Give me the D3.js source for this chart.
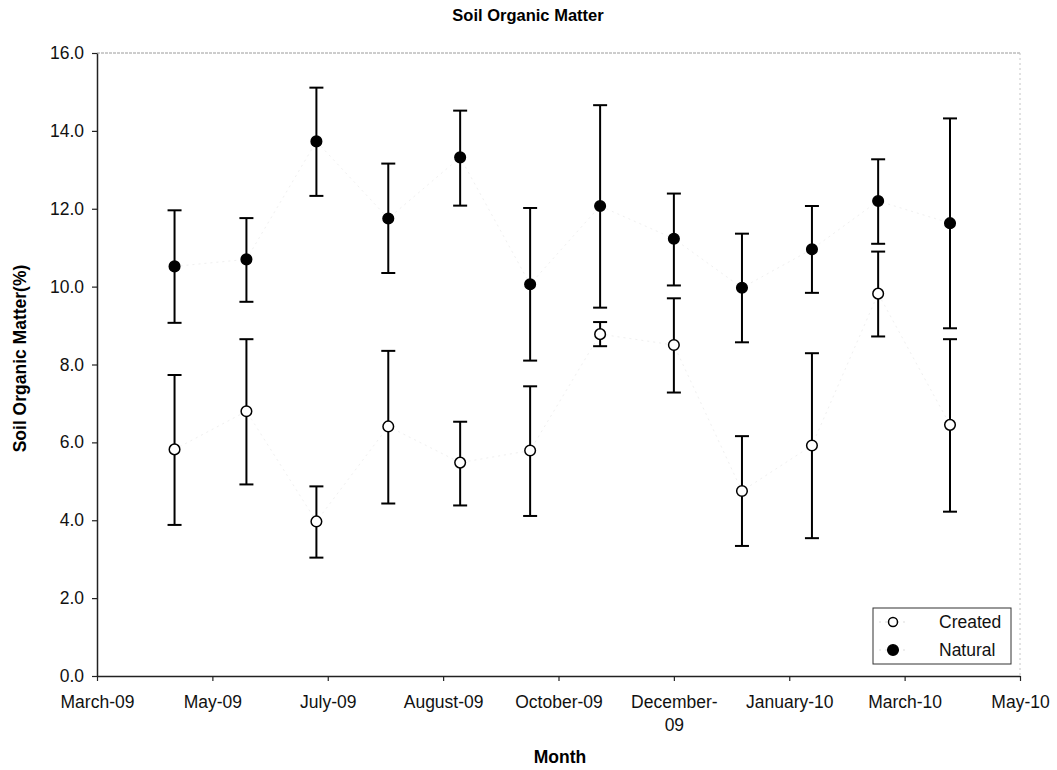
<!DOCTYPE html>
<html>
<head>
<meta charset="utf-8">
<script src="https://cdn.jsdelivr.net/npm/d3@7"></script>
<style>
  html, body { margin: 0; padding: 0; background: #fff; }
  svg { display: block; font-family: "Liberation Sans", Arial, sans-serif; }
</style>
</head>
<body>
<svg id="chart" width="1057" height="770"></svg>
<script>
// Sampling dates, as days after 1 March 2009
const sampleDay = [41, 79, 116, 154, 192, 229, 266, 305, 341, 378, 413, 451];

// Soil organic matter (%) — means and error-bar limits
const createdMean = [5.82, 6.80, 3.97, 6.41, 5.48, 5.79, 8.78, 8.50, 4.75, 5.92, 9.82, 6.45];
const createdLow  = [3.88, 4.92, 3.04, 4.43, 4.38, 4.11, 8.47, 7.28, 3.34, 3.54, 8.72, 4.22];
const createdHigh = [7.73, 8.65, 4.87, 8.35, 6.53, 7.44, 9.09, 9.70, 6.16, 8.29, 10.90, 8.65];

const naturalMean = [10.52, 10.70, 13.73, 11.75, 13.32, 10.06, 12.07, 11.23, 9.97, 10.96, 12.20, 11.63];
const naturalLow  = [9.07, 9.61, 12.33, 10.35, 12.08, 8.10, 9.46, 10.03, 8.57, 9.84, 11.10, 8.93];
const naturalHigh = [11.96, 11.76, 15.11, 13.16, 14.52, 12.02, 14.66, 12.39, 11.36, 12.07, 13.27, 14.32];

// Month axis: a tick every 61 days
const tickDays   = [0, 61, 122, 183, 244, 305, 366, 427, 488];
const tickLabels = ["March-09", "May-09", "July-09", "August-09", "October-09",
                    "December-09", "January-10", "March-10", "May-10"];

const yTicks = [0, 2, 4, 6, 8, 10, 12, 14, 16];

const svg = d3.select("#chart");
const plotLeft = 97, plotRight = 1020, plotTop = 53, plotBottom = 676;
const labelSize = 17.5;

const x = d3.scaleLinear().domain([0, 488]).range([plotLeft, plotRight]);
const y = d3.scaleLinear().domain([0, 16]).range([plotBottom, plotTop]);

// Title
svg.append("text")
  .attr("x", 528).attr("y", 21)
  .attr("text-anchor", "middle")
  .attr("font-size", 16.5).attr("font-weight", "bold")
  .text("Soil Organic Matter");

// Frame: faint dotted top and right edges
svg.append("line")
  .attr("x1", plotLeft).attr("x2", plotRight).attr("y1", plotTop).attr("y2", plotTop)
  .attr("stroke", "#9a9a9a").attr("stroke-width", 1).attr("stroke-dasharray", "3,1");
svg.append("line")
  .attr("x1", plotRight).attr("x2", plotRight).attr("y1", plotTop).attr("y2", plotBottom)
  .attr("stroke", "#c4c4c4").attr("stroke-width", 1).attr("stroke-dasharray", "2,3");

// Y axis
const yAxis = d3.axisLeft(y)
  .tickValues(yTicks)
  .tickFormat(d3.format(".1f"))
  .tickSize(5)
  .tickSizeOuter(0);
const gy = svg.append("g").attr("transform", `translate(${plotLeft},0)`).call(yAxis);
gy.attr("font-family", null).attr("font-size", null);
gy.select(".domain").attr("stroke", "#222").attr("stroke-width", 1.5);
gy.selectAll(".tick line").attr("stroke", "#222").attr("stroke-width", 1.2);
gy.selectAll(".tick text")
  .attr("font-size", labelSize).attr("fill", "#111")
  .attr("x", -13);

// X axis
const xAxis = d3.axisBottom(x)
  .tickValues(tickDays)
  .tickFormat((d, i) => tickLabels[i])
  .tickSize(5)
  .tickSizeOuter(0);
const gx = svg.append("g").attr("transform", `translate(0,${plotBottom})`).call(xAxis);
gx.attr("font-family", null).attr("font-size", null);
gx.select(".domain").attr("stroke", "#222").attr("stroke-width", 1.5);
gx.selectAll(".tick line").attr("stroke", "#222").attr("stroke-width", 1.2);
gx.selectAll(".tick text")
  .attr("font-size", labelSize).attr("fill", "#111")
  .attr("y", 20)
  .each(function(d, i) {
    const t = d3.select(this);
    const label = tickLabels[i];
    if (label.length > 10) {
      // long label breaks after the hyphen
      const cut = label.indexOf("-") + 1;
      t.text(null);
      t.append("tspan").attr("x", 0).attr("dy", "0.71em").text(label.slice(0, cut));
      t.append("tspan").attr("x", 0).attr("dy", "1.3em").text(label.slice(cut));
      t.attr("dy", null);
    }
  });

// Axis titles
svg.append("text")
  .attr("transform", `translate(26,${(plotTop + plotBottom) / 2 - 6}) rotate(-90)`)
  .attr("text-anchor", "middle")
  .attr("font-size", 17.5).attr("font-weight", "bold")
  .text("Soil Organic Matter(%)");
svg.append("text")
  .attr("x", 560).attr("y", 763)
  .attr("text-anchor", "middle")
  .attr("font-size", 17.5).attr("font-weight", "bold")
  .text("Month");

// Series
const series = [
  { name: "Created", mean: createdMean, low: createdLow, high: createdHigh, fill: "#fff" },
  { name: "Natural", mean: naturalMean, low: naturalLow, high: naturalHigh, fill: "#000" }
];

const plot = svg.append("g");

series.forEach(s => {
  const pts = sampleDay.map((d, i) => ({ d, m: s.mean[i], lo: s.low[i], hi: s.high[i] }));

  // faint connecting trace
  plot.append("path")
    .datum(pts)
    .attr("fill", "none")
    .attr("stroke", "#f0f0f0")
    .attr("stroke-width", 1)
    .attr("stroke-dasharray", "2,4")
    .attr("d", d3.line().x(p => x(p.d)).y(p => y(p.m)));

  const g = plot.append("g").selectAll("g").data(pts).join("g");
  g.append("line")
    .attr("x1", p => x(p.d)).attr("x2", p => x(p.d))
    .attr("y1", p => y(p.lo)).attr("y2", p => y(p.hi))
    .attr("stroke", "#000").attr("stroke-width", 2);
  ["lo", "hi"].forEach(k => {
    g.append("line")
      .attr("x1", p => x(p.d) - 7).attr("x2", p => x(p.d) + 7)
      .attr("y1", p => y(p[k])).attr("y2", p => y(p[k]))
      .attr("stroke", "#000").attr("stroke-width", 2);
  });
  g.append("circle")
    .attr("cx", p => x(p.d)).attr("cy", p => y(p.m))
    .attr("r", 5.3)
    .attr("fill", s.fill)
    .attr("stroke", "#000").attr("stroke-width", 1.5);
});

// Legend
const lg = svg.append("g").attr("transform", "translate(873,608)");
lg.append("rect")
  .attr("width", 138).attr("height", 56)
  .attr("fill", "#fff").attr("stroke", "#333").attr("stroke-width", 1);
series.forEach((s, i) => {
  const cy = 14 + i * 28;
  lg.append("line")
    .attr("x1", 6).attr("x2", 34).attr("y1", cy).attr("y2", cy)
    .attr("stroke", "#ddd").attr("stroke-dasharray", "2,4");
  lg.append("circle")
    .attr("cx", 20).attr("cy", cy).attr("r", s.name === "Natural" ? 5.3 : 4.5)
    .attr("fill", s.fill).attr("stroke", "#000").attr("stroke-width", 1.5);
  lg.append("text")
    .attr("x", 66).attr("y", cy + 6)
    .attr("font-size", labelSize).attr("fill", "#111")
    .text(s.name);
});
</script>
</body>
</html>
